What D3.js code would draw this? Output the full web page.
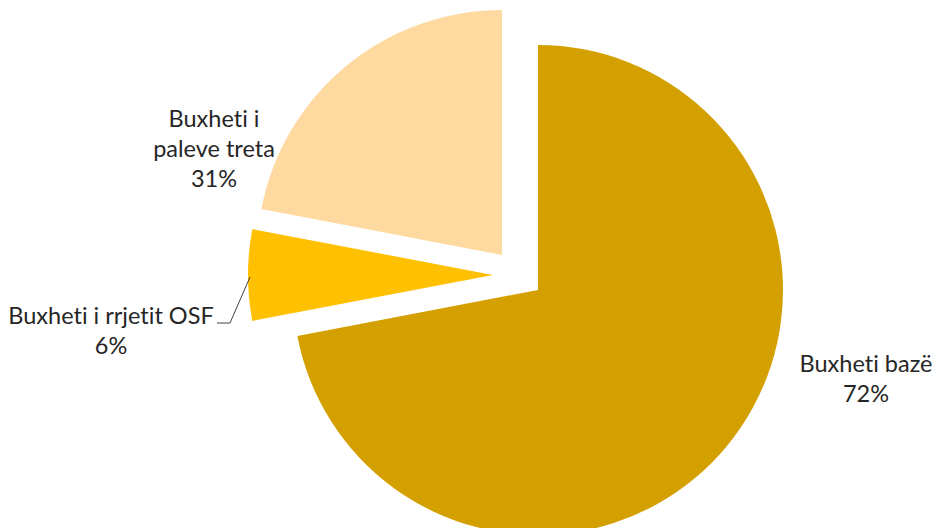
<!DOCTYPE html>
<html>
<head>
<meta charset="utf-8">
<script src="https://cdn.jsdelivr.net/npm/d3@7"></script>
<style>
	body { margin: 0; background: #fff; }
	text { font-family: Lato, "Noto Sans", sans-serif; fill: #262626; font-variant-ligatures: none; }
</style>
</head>
<body>
<svg id="chart" width="935" height="528"></svg>
<script>
// slices, clockwise from 12 o'clock
var categories = ['Buxheti bazë', 'Buxheti i rrjetit OSF', 'Buxheti i paleve treta'];
var values = [72, 6, 22];
var pctLabels = ['72%', '6%', '31%'];
var colors = ['#D4A000', '#FFC000', '#FED9A0'];

var svg = d3.select('#chart');
var cx = 538, cy = 290, r = 245;

// exploded slices are pulled out a bit (excel style)
var shift = [[0, 0], [-45, -15], [-36, -35]];

var pie = d3.pie().sort(null).value(function(d){ return d; });
var arc = d3.arc().innerRadius(0).outerRadius(r);
var arcs = pie(values);

svg.append('g')
	.attr('transform', 'translate(' + cx + ',' + cy + ')')
	.selectAll('path')
	.data(arcs)
	.enter().append('path')
	.attr('transform', function(d, i){ return 'translate(' + shift[i][0] + ',' + shift[i][1] + ')'; })
	.attr('d', arc)
	.style('fill', function(d, i){ return colors[i]; });

// label lines (category name may wrap) + percent
var labelPos = [
	{x: 866, y: 372, lines: ['Buxheti bazë']},
	{x: 111, y: 324, lines: ['Buxheti i rrjetit OSF']},
	{x: 214, y: 127, lines: ['Buxheti i', 'paleve treta']}
];
var lh = 30;

labelPos.forEach(function(p, i){
	var t = svg.append('text')
		.attr('text-anchor', 'middle')
		.style('font-size', '23.5px');
	p.lines.concat([pctLabels[i]]).forEach(function(s, j){
		t.append('tspan').attr('x', p.x).attr('y', p.y + j * lh).text(s);
	});
});

// leader line for the small slice
svg.append('path')
	.attr('d', d3.line()([[217, 323], [230, 323], [250, 277]]))
	.style('fill', 'none')
	.style('stroke', '#404040')
	.style('stroke-width', 1);
</script>
</body>
</html>
